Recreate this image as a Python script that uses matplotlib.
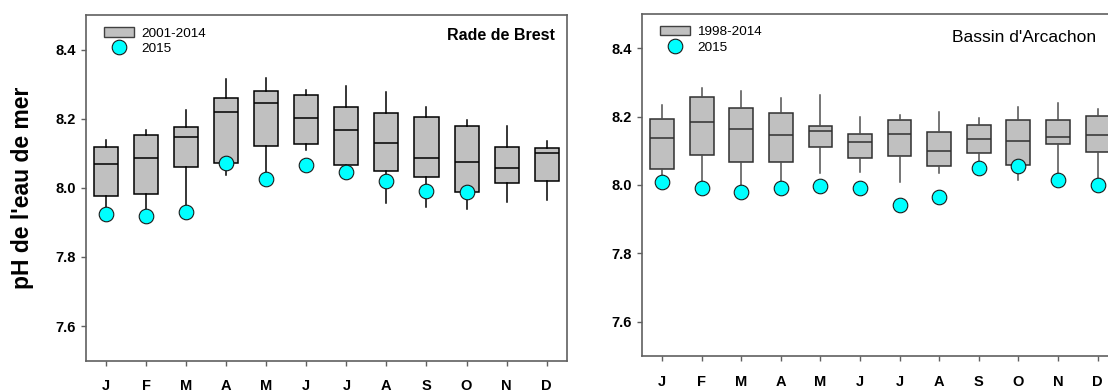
import matplotlib

matplotlib.use("Agg")

import matplotlib.pyplot as plt
import numpy as np
from matplotlib.lines import Line2D
from matplotlib.patches import Patch

plt.rcParams["font.family"] = ["Liberation Sans", "DejaVu Sans"]

MONTHS = ["J", "F", "M", "A", "M", "J", "J", "A", "S", "O", "N", "D"]
Y_TICKS = [7.6, 7.8, 8.0, 8.2, 8.4]

# Rade de Brest, 2001-2014 monthly box statistics
brest_whislo = [7.945, 7.940, 7.947, 8.038, 8.045, 8.110, 8.040, 7.955, 7.945, 7.940, 7.958, 7.964]
brest_q1 = [7.976, 7.983, 8.059, 8.072, 8.120, 8.127, 8.067, 8.048, 8.032, 7.987, 8.014, 8.019]
brest_med = [8.070, 8.087, 8.148, 8.218, 8.245, 8.202, 8.167, 8.130, 8.087, 8.075, 8.058, 8.101]
brest_q3 = [8.118, 8.154, 8.177, 8.260, 8.279, 8.270, 8.234, 8.216, 8.205, 8.180, 8.118, 8.115]
brest_whishi = [8.137, 8.166, 8.226, 8.315, 8.317, 8.282, 8.295, 8.277, 8.234, 8.195, 8.178, 8.136]
brest_2015 = [7.925, 7.918, 7.930, 8.073, 8.026, 8.065, 8.046, 8.019, 7.990, 7.988, np.nan, np.nan]

# Bassin d'Arcachon, 1998-2014 monthly box statistics
arca_whislo = [8.029, 8.010, 8.000, 8.010, 8.036, 8.039, 8.010, 8.036, 8.060, 8.015, 8.025, 8.005]
arca_q1 = [8.046, 8.087, 8.067, 8.067, 8.112, 8.080, 8.085, 8.056, 8.093, 8.059, 8.120, 8.096]
arca_med = [8.138, 8.183, 8.163, 8.147, 8.158, 8.125, 8.150, 8.100, 8.135, 8.130, 8.140, 8.145]
arca_q3 = [8.192, 8.256, 8.224, 8.211, 8.172, 8.150, 8.190, 8.155, 8.175, 8.189, 8.189, 8.202]
arca_whishi = [8.234, 8.285, 8.276, 8.253, 8.262, 8.198, 8.204, 8.212, 8.195, 8.227, 8.241, 8.223]
arca_2015 = [8.010, 7.990, 7.980, 7.990, 7.997, 7.990, 7.941, 7.965, 8.051, 8.056, 8.015, 8.000]


def _stats(whislo, q1, med, q3, whishi):
    return [
        dict(whislo=a, q1=b, med=c, q3=d, whishi=e, fliers=[])
        for a, b, c, d, e in zip(whislo, q1, med, q3, whishi)
    ]


def _draw_panel(ax, stats, points, period, title, title_style, edge, whisker_color):
    pos = np.arange(1, len(MONTHS) + 1)
    ax.bxp(
        stats,
        positions=pos,
        widths=0.6,
        patch_artist=True,
        showcaps=False,
        boxprops=dict(facecolor="#c0c0c0", edgecolor=edge, linewidth=1.1),
        medianprops=dict(color=edge, linewidth=1.1),
        whiskerprops=dict(color=whisker_color, linewidth=1.1),
    )
    ax.plot(pos, points, "o", ms=10.5, mfc="#00ffff", mec="#1a1a1a", mew=0.8, zorder=5)

    ax.set_xlim(0.5, 12.5)
    ax.set_ylim(7.5, 8.5)
    ax.set_xticks(pos)
    ax.set_xticklabels(MONTHS)
    ax.set_yticks(Y_TICKS)
    ax.set_yticklabels(["%.1f" % v for v in Y_TICKS])
    for lab in ax.get_xticklabels() + ax.get_yticklabels():
        lab.set_fontweight("bold")
        lab.set_fontsize(10.5)
    ax.tick_params(axis="x", direction="out", length=3.5, width=1, color="#606060", pad=10)
    ax.tick_params(axis="y", direction="out", length=3.5, width=1, color="#606060", pad=4)
    for sp in ax.spines.values():
        sp.set_color("#606060")
        sp.set_linewidth(1.2)

    tx, ty, size, weight = title_style
    ax.text(tx, ty, title, transform=ax.transAxes, ha="right", va="center",
            fontsize=size, fontweight=weight)

    handles = [
        Patch(facecolor="#c0c0c0", edgecolor="#404040", linewidth=1.0),
        Line2D([], [], ls="", marker="o", ms=10.5, mfc="#00ffff", mec="#1a1a1a", mew=0.8),
    ]
    ax.legend(handles, [period, "2015"], loc="upper left", bbox_to_anchor=(0.038, 0.965),
              frameon=False, fontsize=9.7, handlelength=2.2, handletextpad=0.55,
              labelspacing=0.22, borderpad=0, borderaxespad=0)


fig = plt.figure(figsize=(11.08, 3.92), dpi=100)
ax1 = fig.add_axes([86 / 1108, (392 - 360.7) / 392, 480.7 / 1108, 345.7 / 392])
ax2 = fig.add_axes([642.3 / 1108, (392 - 356) / 392, 475 / 1108, 342 / 392])

_draw_panel(ax1, _stats(brest_whislo, brest_q1, brest_med, brest_q3, brest_whishi), brest_2015,
            "2001-2014", "Rade de Brest", (0.976, 0.942, 11.5, "bold"), "black", "black")
_draw_panel(ax2, _stats(arca_whislo, arca_q1, arca_med, arca_q3, arca_whishi), arca_2015,
            "1998-2014", "Bassin d'Arcachon", (0.955, 0.93, 12.5, "normal"), "#303030", "#505050")

ax1.set_ylabel("pH de l'eau de mer", fontsize=16.5, fontweight="bold", labelpad=15)

fig.savefig("out.png", dpi=100)
